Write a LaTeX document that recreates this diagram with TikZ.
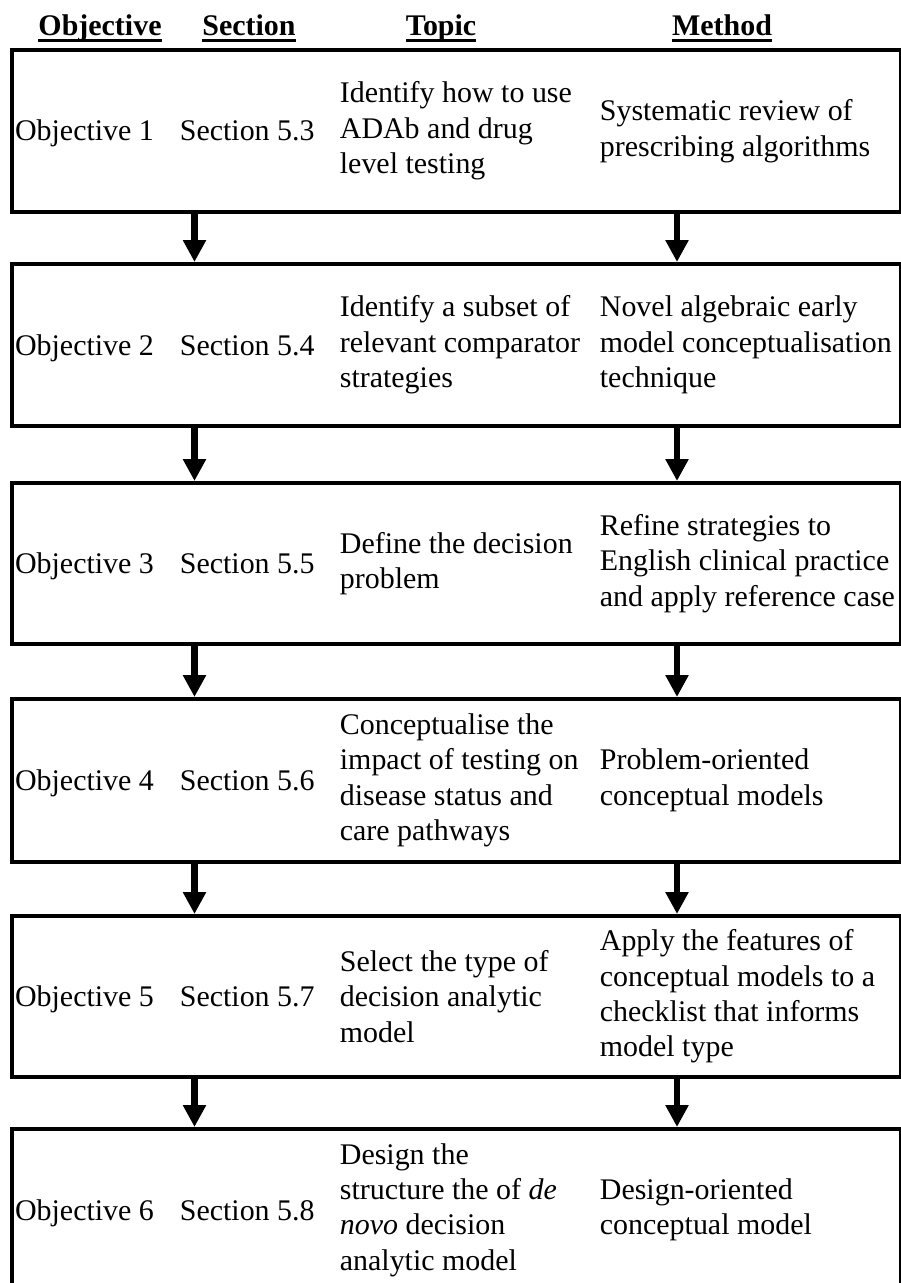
\documentclass[tikz,border=0pt]{standalone}
\usepackage{fontspec}
\setmainfont{Liberation Serif}
\usetikzlibrary{arrows.meta,positioning}
\newcommand{\cellfont}{\fontsize{21.3pt}{25.2pt}\selectfont}
% underlined column head, rule at a fixed depth
\newcommand{\headrule}[1]{\setbox0\hbox{#1}\rlap{\rule[-0.16cm]{\wd0}{0.075cm}}\box0}
\tikzset{
  rowbox/.style={draw=black, line width=0.1cm, minimum width=22.225cm, inner sep=0pt},
  cell/.style={anchor=west, inner sep=0pt, align=left, font=\cellfont},
  tag/.style={anchor=base west, inner sep=0pt, font=\cellfont},
  colhead/.style={anchor=base, inner sep=0pt, font=\cellfont\bfseries},
  flow/.style={-{Triangle[length=0.55cm, width=0.55cm]}, line width=0.16cm},
}
% the four cells of one row, placed from the row's west side
\newcommand{\rowcells}[5]{%
  \node[tag] (#1obj) at ([xshift=0.12cm, yshift=-0.25cm]#1.west) {#2};
  \node[tag] (#1sec) at ([xshift=4.24cm, yshift=-0.25cm]#1.west) {#3};
  \node[cell] (#1top) at ([xshift=8.24cm]#1.west) {#4};
  \node[cell] (#1met) at ([xshift=14.74cm]#1.west) {#5};
}
\begin{document}
\begin{tikzpicture}[x=1cm,y=1cm]
  \useasboundingbox (0,0) rectangle (22.525,-32.075);
  \coordinate (aL) at (4.8625,0);
  \coordinate (aR) at (16.925,0);
  % column heads
  \node[colhead] (hobj) at (2.5,-0.9) {\headrule{Objective}};
  \node[colhead] (hsec) at (6.225,-0.9) {\headrule{Section}};
  \node[colhead] (htop) at (11.025,-0.9) {\headrule{Topic}};
  \node[colhead] (hmet) at (18.05,-0.9) {\headrule{Method}};
  % rows
  \node[rowbox, minimum height=4.05cm] (r1) at (11.4125,-3.275) {};
  \node[rowbox, minimum height=4.05cm] (r2) at (11.4125,-8.625) {};
  \node[rowbox, minimum height=4.025cm] (r3) at (11.4125,-14.0875) {};
  \node[rowbox, minimum height=4.075cm] (r4) at (11.4125,-19.5125) {};
  \node[rowbox, minimum height=4.025cm] (r5) at (11.4125,-24.9125) {};
  \node[rowbox, minimum height=4.05cm] (r6) at (11.4125,-30.25) {};
  \rowcells{r1}{Objective 1}{Section 5.3}
    {Identify how to use\\ADAb and drug\\level testing}
    {Systematic review of\\prescribing algorithms}
  \rowcells{r2}{Objective 2}{Section 5.4}
    {Identify a subset of\\relevant comparator\\strategies}
    {Novel algebraic early\\model conceptualisation\\technique}
  \rowcells{r3}{Objective 3}{Section 5.5}
    {Define the decision\\problem}
    {Refine strategies to\\English clinical practice\\and apply reference case}
  \rowcells{r4}{Objective 4}{Section 5.6}
    {Conceptualise the\\impact of testing on\\disease status and\\care pathways}
    {Problem-oriented\\conceptual models}
  \rowcells{r5}{Objective 5}{Section 5.7}
    {Select the type of\\decision analytic\\model}
    {Apply the features of\\conceptual models to a\\checklist that informs\\model type}
  \rowcells{r6}{Objective 6}{Section 5.8}
    {Design the\\structure the of \textit{de}\\\textit{novo} decision\\analytic model}
    {Design-oriented\\conceptual model}
  % arrows between rows
  \foreach \a/\b in {r1/r2,r2/r3,r3/r4,r4/r5,r5/r6}{
    \draw[flow] (\a.south -| aL) -- (\b.north -| aL);
    \draw[flow] (\a.south -| aR) -- (\b.north -| aR);
  }
\end{tikzpicture}
\end{document}
